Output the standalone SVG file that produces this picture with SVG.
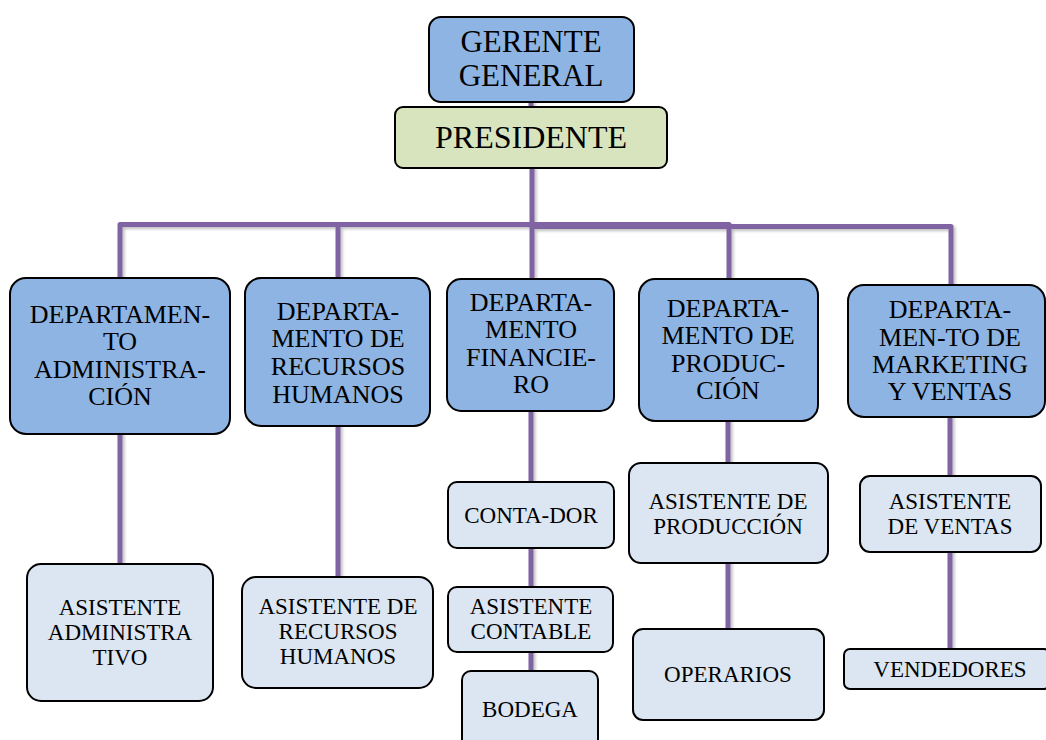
<svg xmlns="http://www.w3.org/2000/svg" width="1046" height="740" viewBox="0 0 1046 740">
<defs>
<filter id="sh" x="-10%" y="-10%" width="130%" height="130%">
<feDropShadow dx="2" dy="2" stdDeviation="1.5" flood-color="#000" flood-opacity="0.25"/>
</filter>
</defs>
<style>
.top{fill:#8eb4e3;stroke:#000;stroke-width:2}
.pres{fill:#d7e4bd;stroke:#000;stroke-width:2}
.dept{fill:#8eb4e3;stroke:#000;stroke-width:2}
.sub{fill:#dce6f2;stroke:#000;stroke-width:2}
.ln{fill:none;stroke:#8064a2;stroke-width:5;stroke-linejoin:round}
text{font-family:'Liberation Serif','Times New Roman',Times,serif;fill:#000;text-anchor:middle}
.t1{font-size:31px}
.t1b{font-size:32px}
.t2{font-size:26px}
.t3{font-size:23px}
</style>
<rect width="1046" height="740" fill="#fff"/>
<g id="connectors" filter="url(#sh)">
<path class="ln" d="M531,100 V110"/>
<path class="ln" d="M120,279 V224.5 H729 V280"/>
<path class="ln" d="M532,166 V226.5 H951 V286"/>
<path class="ln" d="M338,224.5 V279"/>
<path class="ln" d="M532,224 V280"/>
<path class="ln" d="M120,432 V565"/>
<path class="ln" d="M338,424 V578"/>
<path class="ln" d="M531,409 V672"/>
<path class="ln" d="M728,419 V630"/>
<path class="ln" d="M950,415 V650"/>
</g>
<g id="gerente">
<rect class="top" x="429" y="17" width="205" height="85" rx="12"/>
<text class="t1" x="531" y="52">GERENTE</text>
<text class="t1" x="531" y="86">GENERAL</text>
</g>
<g id="presidente">
<rect class="pres" x="395" y="107" width="272" height="61" rx="8"/>
<text class="t1b" x="531" y="148">PRESIDENTE</text>
</g>
<g id="dep-admin">
<rect class="dept" x="10" y="278" width="220" height="156" rx="16"/>
<text class="t2" x="120" y="323">DEPARTAMEN-</text>
<text class="t2" x="120" y="350">TO</text>
<text class="t2" x="120" y="378">ADMINISTRA-</text>
<text class="t2" x="120" y="405">CIÓN</text>
</g>
<g id="dep-rrhh">
<rect class="dept" x="245" y="278" width="185" height="148" rx="16"/>
<text class="t2" x="338" y="320">DEPARTA-</text>
<text class="t2" x="338" y="347">MENTO DE</text>
<text class="t2" x="338" y="375">RECURSOS</text>
<text class="t2" x="338" y="403">HUMANOS</text>
</g>
<g id="dep-fin">
<rect class="dept" x="447" y="279" width="167" height="132" rx="14"/>
<text class="t2" x="531" y="311">DEPARTA-</text>
<text class="t2" x="531" y="338">MENTO</text>
<text class="t2" x="531" y="366">FINANCIE-</text>
<text class="t2" x="531" y="393">RO</text>
</g>
<g id="dep-prod">
<rect class="dept" x="639" y="279" width="179" height="142" rx="16"/>
<text class="t2" x="728" y="317">DEPARTA-</text>
<text class="t2" x="728" y="344">MENTO DE</text>
<text class="t2" x="728" y="372">PRODUC-</text>
<text class="t2" x="728" y="399">CIÓN</text>
</g>
<g id="dep-mkt">
<rect class="dept" x="848" y="285" width="197" height="132" rx="16"/>
<text class="t2" x="950" y="318">DEPARTA-</text>
<text class="t2" x="950" y="346">MEN-TO DE</text>
<text class="t2" x="950" y="373">MARKETING</text>
<text class="t2" x="950" y="400">Y VENTAS</text>
</g>
<g id="asis-admin">
<rect class="sub" x="27" y="564" width="186" height="137" rx="14"/>
<text class="t3" x="120" y="615">ASISTENTE</text>
<text class="t3" x="120" y="640">ADMINISTRA</text>
<text class="t3" x="120" y="665">TIVO</text>
</g>
<g id="asis-rrhh">
<rect class="sub" x="242" y="577" width="191" height="111" rx="14"/>
<text class="t3" x="338" y="614">ASISTENTE DE</text>
<text class="t3" x="338" y="639">RECURSOS</text>
<text class="t3" x="338" y="664">HUMANOS</text>
</g>
<g id="contador">
<rect class="sub" x="448" y="482" width="166" height="66" rx="9"/>
<text class="t3" x="531" y="523">CONTA-DOR</text>
</g>
<g id="asis-contable">
<rect class="sub" x="448" y="587" width="165" height="65" rx="9"/>
<text class="t3" x="531" y="614">ASISTENTE</text>
<text class="t3" x="531" y="639">CONTABLE</text>
</g>
<g id="bodega">
<rect class="sub" x="462" y="671" width="136" height="90" rx="9"/>
<text class="t3" x="530" y="717">BODEGA</text>
</g>
<g id="asis-prod">
<rect class="sub" x="629" y="463" width="199" height="100" rx="12"/>
<text class="t3" x="728" y="509">ASISTENTE DE</text>
<text class="t3" x="728" y="534">PRODUCCIÓN</text>
</g>
<g id="operarios">
<rect class="sub" x="633" y="629" width="191" height="91" rx="10"/>
<text class="t3" x="728" y="682">OPERARIOS</text>
</g>
<g id="asis-ventas">
<rect class="sub" x="860" y="476" width="181" height="76" rx="10"/>
<text class="t3" x="950" y="509">ASISTENTE</text>
<text class="t3" x="950" y="534">DE VENTAS</text>
</g>
<g id="vendedores">
<rect class="sub" x="844" y="649" width="206" height="40" rx="6"/>
<text class="t3" x="950" y="677">VENDEDORES</text>
</g>
</svg>
